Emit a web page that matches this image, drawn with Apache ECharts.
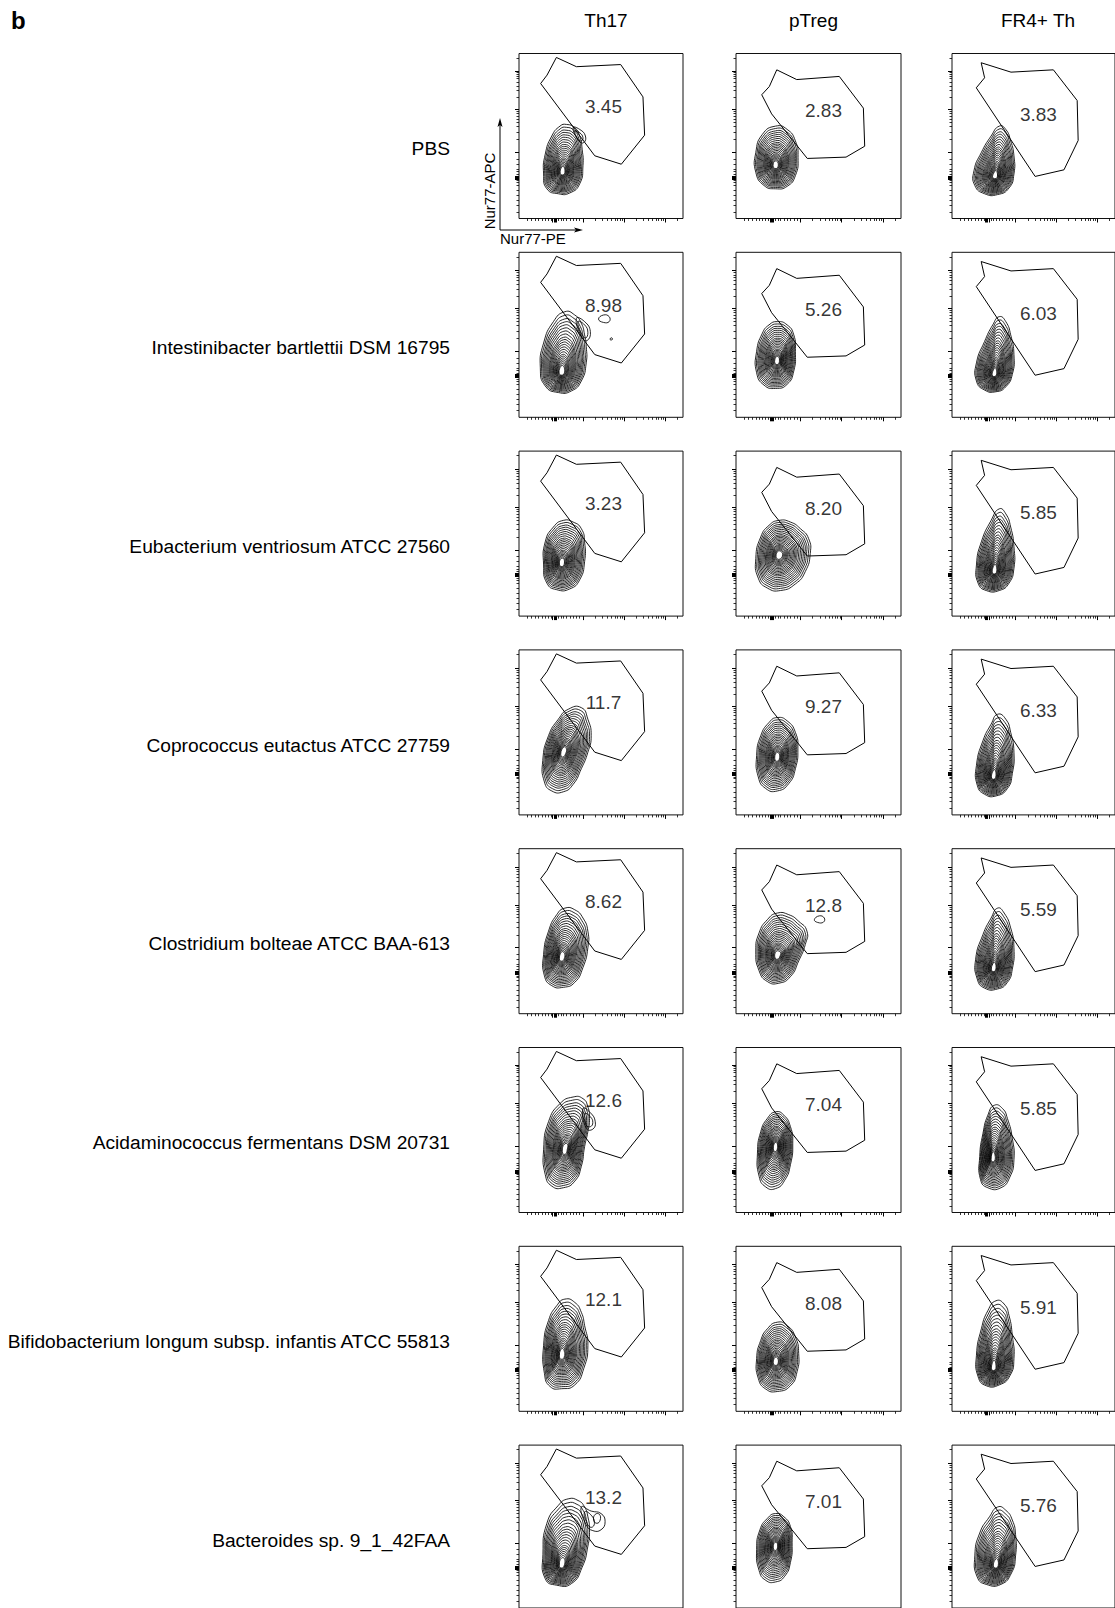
<!DOCTYPE html>
<html>
<head>
<meta charset="utf-8">
<script src="https://cdn.jsdelivr.net/npm/echarts@6/dist/echarts.min.js"></script>
<style>
  html, body { margin: 0; padding: 0; background: #fff; }
  #chart { width: 1115px; height: 1608px; }
</style>
</head>
<body>
<div id="chart"></div>
<script>
// row / column names
const rowLabels = [
  'PBS',
  'Intestinibacter bartlettii DSM 16795',
  'Eubacterium ventriosum ATCC 27560',
  'Coprococcus eutactus ATCC 27759',
  'Clostridium bolteae ATCC BAA-613',
  'Acidaminococcus fermentans DSM 20731',
  'Bifidobacterium longum subsp. infantis ATCC 55813',
  'Bacteroides sp. 9_1_42FAA'
];
const colTitles = ['Th17', 'pTreg', 'FR4+ Th'];

// % in gate
const gateValues = [
  ['3.45', '2.83', '3.83'],
  ['8.98', '5.26', '6.03'],
  ['3.23', '8.20', '5.85'],
  ['11.7', '9.27', '6.33'],
  ['8.62', '12.8', '5.59'],
  ['12.6', '7.04', '5.85'],
  ['12.1', '8.08', '5.91'],
  ['13.2', '7.01', '5.76']
];

// gate polygons (axis units 0-100), one per column
const gates = [
  [[22.8, 97.6], [35, 92], [62, 93.3], [75.6, 73.7], [76.6, 50.5], [62.4, 32.9], [46.2, 38], [13.2, 81.8], [17.1, 86.9], [22.8, 97.6]],
  [[24.7, 90.1], [36.8, 84.2], [62.6, 86.1], [77.2, 66.9], [78, 43.8], [66.7, 37.2], [43.2, 36.4], [21.6, 63.4], [15.6, 75], [20.2, 80], [24.7, 90.1]],
  [[17.9, 94.4], [36.2, 88.7], [62.2, 90.1], [76.8, 71.5], [77.4, 47.3], [68.7, 29.5], [51, 25.5], [14.9, 79.2], [20, 85.3], [17.9, 94.4]]
];
const labelPos = [[51.5, 68], [53, 65.5], [53, 63]];

// outer contour of each population, and the density peak
const blobOutlines = [
  [
    [[29, 57], [34, 55], [37, 50], [38.5, 42], [39, 32], [37, 21], [31, 15.5], [24, 15], [17, 18], [15, 27], [16, 39], [20, 50], [25, 56]],
    [[24, 56], [31, 54], [36, 47], [37.6, 37], [36, 26], [31, 19.5], [24, 18], [17, 20], [12, 28], [12, 40], [16, 51]],
    [[29, 56], [33, 54], [36, 47], [38, 38], [38, 27], [35, 18.5], [28, 14.5], [20, 15], [14, 20], [13.5, 29], [18, 40], [24, 50]]
  ],
  [
    [[28, 64], [34, 62], [38, 57], [40, 50], [41, 43], [41, 33], [38, 22], [32, 16], [24, 15], [16, 19], [13, 30], [15, 45], [21, 58]],
    [[25, 58], [31, 56], [35, 50], [36, 40], [35, 28], [31, 20], [24, 17.5], [17, 19.5], [12.5, 27], [12.5, 40], [16, 51], [20, 56]],
    [[29, 61], [33, 58], [36, 50], [38, 38], [37, 26], [33, 18.5], [27, 15.5], [20, 16.5], [15, 22], [15, 33], [20, 46], [25, 56]]
  ],
  [
    [[27, 58], [33, 57], [38, 53], [40, 45], [40, 33], [37, 22], [31, 16.5], [23, 16], [17, 20], [15, 31], [16, 45], [21, 54]],
    [[26, 58], [33, 57], [39, 53], [44, 47], [45, 38], [42, 27], [36, 19.5], [27, 15.5], [19, 17], [13.5, 23], [12, 35], [15, 48], [20, 55]],
    [[29, 65], [33, 62], [36, 54], [38, 42], [38, 29], [35, 20], [29, 15.5], [21, 15.5], [16, 20], [15, 31], [18, 45], [24, 58]]
  ],
  [
    [[30, 64], [38, 65], [42, 58], [44, 48], [42, 38], [38, 28], [33, 18.5], [27, 14], [20, 14.5], [15.5, 20], [14.5, 33], [18, 48], [24, 58]],
    [[25, 59], [31, 57], [36, 50], [37.5, 40], [36, 28], [32, 19], [25, 14.5], [18, 16], [13.5, 23], [12.5, 36], [15, 48], [20, 56]],
    [[28, 61], [33, 58], [36, 50], [38, 38], [37, 25], [34, 16], [27, 11.5], [20, 12.5], [15.5, 18], [15, 30], [19, 45], [24, 55]]
  ],
  [
    [[28, 64], [34, 63], [39, 58], [42, 50], [42, 40], [39, 28], [34, 19], [27, 16], [20, 17], [15.5, 23], [15, 36], [18, 50], [23, 60]],
    [[25, 61], [32, 60], [38, 56], [43, 50], [42, 42], [38, 32], [33, 22.5], [26, 18.5], [19, 19.5], [14, 26], [12, 38], [14, 49], [19, 57]],
    [[28, 64], [32, 61], [36, 52], [38, 40], [37, 27], [34, 19], [28, 15], [20, 15.5], [15.5, 21], [14.5, 33], [19, 48], [24, 58]]
  ],
  [
    [[33, 70], [39, 69], [42, 64], [43, 57], [42, 49], [40, 40], [38, 28], [34, 19], [27, 15], [20, 16], [16, 23], [15, 38], [18, 55], [25, 66]],
    [[24, 61], [29, 59], [33, 52], [34.4, 42], [33, 29], [29.5, 19.5], [24, 14.5], [18, 15.5], [14, 22], [13, 36], [15, 49], [19, 57]],
    [[26, 65], [31, 63], [34, 57], [37, 45], [38, 32], [35.5, 21.5], [30, 15], [22, 15], [17.5, 20], [17, 34], [19, 48], [22, 59]]
  ],
  [
    [[28, 68], [34, 66], [38, 60], [40, 52], [42, 40], [39.5, 26], [34, 16], [26, 13.7], [19, 15], [15.5, 23], [15, 40], [18, 55], [23, 64]],
    [[25, 54], [31, 52], [36, 45], [38, 35], [37, 24], [33, 15.5], [25, 12], [18, 13.5], [13.5, 20], [12.5, 32], [15, 43], [19, 50]],
    [[27, 67], [32, 65], [35, 58], [37, 46], [38, 32], [35.5, 21.5], [29, 16], [21, 15.5], [16, 21], [15, 34], [18, 50], [22, 61]]
  ],
  [
    [[30, 67], [36, 66], [40, 62], [42, 56], [43, 48], [42, 38], [38.5, 25], [32, 15], [23, 14], [16, 18], [14.6, 33], [17, 52], [24, 63]],
    [[24, 58], [29, 56], [33, 50], [34, 40], [33, 28], [29.5, 19.5], [24, 16], [18, 17], [14, 23], [12.5, 36], [14.5, 48], [19, 55]],
    [[28, 62], [33, 60], [37, 54], [39, 45], [39, 32], [36.5, 21.5], [30, 14.5], [21, 14.5], [15.5, 19], [14, 32], [17, 46], [23, 56]]
  ]
];
const blobCores = [
  [[26.5, 28], [24, 32], [26.5, 25.5]],
  [[26, 27], [25, 34], [26, 26]],
  [[26, 32], [26, 37], [26, 27]],
  [[27, 38], [25, 35], [25.5, 23]],
  [[26, 34], [25, 35], [25.5, 27]],
  [[28, 38], [24, 40], [25, 33]],
  [[26, 34], [24, 30], [25.5, 26]],
  [[26, 26], [24, 38], [27, 26]]
];
// side lobes and small isolated contours
const blobExtras = [
  [[[[33, 55], [37, 54], [40.5, 50], [39.5, 46], [36.5, 47]], [[34, 53], [37, 52], [39, 49], [38, 47], [36, 48]]], [], []],
  [[[[48.5, 59.5], [51.5, 62], [55, 61], [55, 58], [51.5, 57.5]], [[55.5, 47.5], [56.5, 48.2], [57, 47.3], [56, 46.8]],
    [[35, 60], [40, 58], [43.5, 52], [41.5, 46.5], [38, 49]], [[36, 58], [40, 56], [42, 51.5], [40.5, 48], [38, 51]]], [], []],
  [[], [], []],
  [[], [], []],
  [[], [[[47.5, 57], [50.5, 59.3], [53.5, 58], [53, 55.5], [49.5, 55.3]]], []],
  [[[[39, 63], [43.5, 60.5], [46.5, 55], [45, 50.5], [41, 51]], [[40, 60], [43.5, 58], [45, 54.5], [43.5, 52], [41, 53]]], [], []],
  [[], [], []],
  [[[[38, 62], [44, 59.5], [50, 58], [52.5, 53], [50, 48], [45, 47.5], [41, 51]], [[45.5, 54], [46.5, 57.5], [49, 57.5], [49.5, 54], [47.5, 52]],
    [[40, 59], [44, 57], [46, 52], [44, 49.5], [41.5, 52]]], [], []]
];

// tick positions (axis units)
const xMajorTicks = [20.5, 21.2, 21.9, 22.6, 39, 64, 89];
const xMinorTicks = [5, 7.5, 10, 12, 14, 16, 18, 19.5, 24, 25.5, 27, 29, 31, 33, 35, 37,
  46.5, 50.9, 54.1, 56.5, 58.5, 60.1, 61.6, 62.9, 71.5, 75.9, 79.1, 81.5, 83.5, 85.1, 86.6, 87.9, 96.5];
const yMajorTicks = [24, 24.6, 25.2, 25.8, 40, 66, 89];
const yMinorTicks = [4, 8, 11, 14, 17, 20, 22, 23, 27, 28.5, 30, 33, 36,
  47.8, 52.4, 55.7, 58.2, 60.2, 62, 63.5, 64.8, 73.2, 77.5, 80.4, 82.8, 84.7, 86.3, 87.7, 88.9, 97.2];

const ringScales = [1, 0.94, 0.88, 0.83, 0.78, 0.73, 0.68, 0.63, 0.58, 0.54, 0.5, 0.46, 0.42,
  0.38, 0.34, 0.3, 0.27, 0.24, 0.21, 0.18, 0.15, 0.12];

const FONT = '"Liberation Sans", Arial, Helvetica, sans-serif';
const colLeft = [519, 736, 952];
const colWidth = [164, 165, 164];
const rowTop0 = 53.5;
const rowStep = 198.8;
const panelH = 165;

const chart = echarts.init(document.getElementById('chart'), null, { renderer: 'svg' });

function blobRenderer(outline, core, extras) {
  return function (params, api) {
    const c = api.coord(core);
    const outer = outline.map(p => api.coord(p));
    const children = [];
    ringScales.forEach(s => {
      const pts = outer.map(p => [c[0] + (p[0] - c[0]) * s, c[1] + (p[1] - c[1]) * s]);
      children.push({
        type: 'polygon',
        shape: { points: pts, smooth: 0.55 },
        style: { fill: 'none', stroke: '#000', lineWidth: 0.85 }
      });
    });
    extras.forEach(e => {
      children.push({
        type: 'polygon',
        shape: { points: e.map(p => api.coord(p)), smooth: 0.5 },
        style: { fill: 'none', stroke: '#000', lineWidth: 0.85 }
      });
    });
    return { type: 'group', children: children };
  };
}

const grid = [], xAxis = [], yAxis = [], series = [];
function axisBase(g) {
  return {
    gridIndex: g, type: 'value', min: 0, max: 100,
    axisLine: { show: false }, splitLine: { show: false }, axisLabel: { show: false }
  };
}

for (let r = 0; r < rowLabels.length; r++) {
  for (let c = 0; c < colTitles.length; c++) {
    const g = grid.length;
    grid.push({
      left: colLeft[c], top: rowTop0 + r * rowStep, width: colWidth[c], height: panelH,
      show: true, borderColor: '#111', borderWidth: 1, backgroundColor: 'transparent'
    });
    xAxis.push(Object.assign(axisBase(g), {
      position: 'bottom',
      axisTick: { show: true, length: 4, lineStyle: { color: '#000', width: 1 }, customValues: xMajorTicks }
    }));
    xAxis.push(Object.assign(axisBase(g), {
      position: 'bottom',
      axisTick: { show: true, length: 2.5, lineStyle: { color: '#000', width: 0.8 }, customValues: xMinorTicks }
    }));
    yAxis.push(Object.assign(axisBase(g), {
      position: 'left',
      axisTick: { show: true, length: 4, lineStyle: { color: '#000', width: 1 }, customValues: yMajorTicks }
    }));
    yAxis.push(Object.assign(axisBase(g), {
      position: 'left',
      axisTick: { show: true, length: 2.5, lineStyle: { color: '#000', width: 0.8 }, customValues: yMinorTicks }
    }));
    const xi = g * 2, yi = g * 2;
    series.push({
      type: 'custom', xAxisIndex: xi, yAxisIndex: yi, silent: true,
      renderItem: blobRenderer(blobOutlines[r][c], blobCores[r][c], blobExtras[r][c]),
      data: [blobCores[r][c]]
    });
    series.push({
      type: 'line', xAxisIndex: xi, yAxisIndex: yi, silent: true,
      data: gates[c], showSymbol: false, symbol: 'none',
      lineStyle: { color: '#000', width: 1 }, z: 3
    });
    series.push({
      type: 'scatter', xAxisIndex: xi, yAxisIndex: yi, silent: true,
      data: [{ value: labelPos[c], name: gateValues[r][c] }],
      symbolSize: 1, itemStyle: { color: 'rgba(0,0,0,0)' },
      label: { show: true, position: 'inside', formatter: '{b}', fontSize: 19, fontFamily: FONT, color: '#000' },
      z: 4
    });
  }
}

const graphic = [];
graphic.push({ type: 'text', x: 11, y: 20, style: { text: 'b', font: 'bold 24px ' + FONT, fill: '#000', textVerticalAlign: 'middle' } });
const titleX = [606, 813.5, 1038];
colTitles.forEach((t, i) => {
  graphic.push({ type: 'text', x: titleX[i], y: 20, style: { text: t, font: '19px ' + FONT, fill: '#000', textAlign: 'center', textVerticalAlign: 'middle' } });
});
rowLabels.forEach((t, i) => {
  graphic.push({ type: 'text', x: 450, y: 148.7 + i * rowStep, style: { text: t, font: '19.2px ' + FONT, fill: '#000', textAlign: 'right', textVerticalAlign: 'middle' } });
});
// axis arrows of the first panel
graphic.push({ type: 'polyline', shape: { points: [[500, 230], [500, 125]] }, style: { stroke: '#000', lineWidth: 1 } });
graphic.push({ type: 'polygon', shape: { points: [[500, 118], [497.5, 127], [500, 125], [502.5, 127]] }, style: { fill: '#000' } });
graphic.push({ type: 'polyline', shape: { points: [[500, 230], [576, 230]] }, style: { stroke: '#000', lineWidth: 1 } });
graphic.push({ type: 'polygon', shape: { points: [[583, 230], [574, 227.5], [576, 230], [574, 232.5]] }, style: { fill: '#000' } });
graphic.push({ type: 'text', x: 489, y: 191, rotation: Math.PI / 2, style: { text: 'Nur77-APC', font: '15px ' + FONT, fill: '#000', textAlign: 'center', textVerticalAlign: 'middle' } });
graphic.push({ type: 'text', x: 500, y: 238, style: { text: 'Nur77-PE', font: '15px ' + FONT, fill: '#000', textVerticalAlign: 'middle' } });

chart.setOption({
  animation: false,
  grid: grid,
  xAxis: xAxis,
  yAxis: yAxis,
  series: series,
  graphic: graphic
});
</script>
</body>
</html>
